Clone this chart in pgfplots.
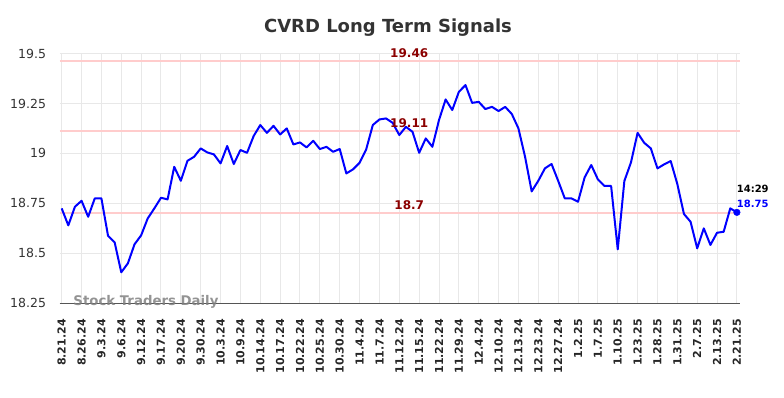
\documentclass[border=0pt]{standalone}
\usepackage{pgfplots}
\pgfplotsset{compat=1.18}
\usepackage{fontspec}
\setmainfont{DejaVu Sans}
\definecolor{lvl}{RGB}{255,204,204}
\definecolor{lvltxt}{RGB}{139,0,0}
\definecolor{gridc}{RGB}{232,232,232}
\definecolor{axc}{RGB}{85,85,85}
\pgfplotstableread{
i v
0 18.725
1 18.64
2 18.733
3 18.763
4 18.683
5 18.775
6 18.775
7 18.588
8 18.555
9 18.405
10 18.45
11 18.545
12 18.59
13 18.675
14 18.725
15 18.778
16 18.77
17 18.933
18 18.863
19 18.963
20 18.983
21 19.025
22 19.005
23 18.995
24 18.95
25 19.037
26 18.947
27 19.017
28 19.003
29 19.087
30 19.142
31 19.103
32 19.138
33 19.095
34 19.125
35 19.045
36 19.055
37 19.03
38 19.063
39 19.022
40 19.033
41 19.008
42 19.022
43 18.9
44 18.92
45 18.953
46 19.02
47 19.142
48 19.17
49 19.175
50 19.153
51 19.092
52 19.133
53 19.108
54 19.003
55 19.075
56 19.033
57 19.167
58 19.27
59 19.217
60 19.308
61 19.342
62 19.253
63 19.258
64 19.222
65 19.233
66 19.212
67 19.233
68 19.197
69 19.125
70 18.983
71 18.81
72 18.863
73 18.925
74 18.947
75 18.863
76 18.775
77 18.775
78 18.758
79 18.88
80 18.942
81 18.87
82 18.837
83 18.837
84 18.52
85 18.862
86 18.955
87 19.103
88 19.053
89 19.025
90 18.925
91 18.945
92 18.962
93 18.847
94 18.697
95 18.658
96 18.525
97 18.625
98 18.542
99 18.603
100 18.608
101 18.725
102 18.705
}\prices
\begin{document}
\begin{tikzpicture}[x=1pt,y=1pt]
\useasboundingbox (0,0) rectangle (784,398);
\node[anchor=base, font=\bfseries\fontsize{18}{18}\selectfont, text=black!80] at (388,365) {CVRD Long Term Signals};
\begin{axis}[at={(59.5pt,94.7pt)}, anchor=south west, scale only axis,
  width=680.5pt, height=249.8pt,
  xmin=-0.33, xmax=102.47, ymin=18.25, ymax=19.5,
  axis line style={draw=none},
  clip=false,
  major tick length=0pt,
  xtick={0,3,...,102},
  xticklabels={8.21.24,8.26.24,9.3.24,9.6.24,9.12.24,9.17.24,9.20.24,9.30.24,10.3.24,10.9.24,10.14.24,10.17.24,10.22.24,10.25.24,10.30.24,11.4.24,11.7.24,11.12.24,11.15.24,11.22.24,11.29.24,12.4.24,12.10.24,12.13.24,12.23.24,12.27.24,1.2.25,1.7.25,1.10.25,1.23.25,1.28.25,1.31.25,2.7.25,2.13.25,2.21.25},
  ytick={18.25,18.5,18.75,19,19.25,19.5},
  yticklabels={18.25,18.5,18.75,19,19.25,19.5},
  xticklabel style={rotate=90, anchor=east, font=\bfseries\fontsize{11}{11}\selectfont, text=black!85, xshift=-12.5pt},
  yticklabel style={font=\fontsize{12.5}{12.5}\selectfont, text=black!80, xshift=-10pt},
  xmajorgrids, ymajorgrids,
  major grid style={gridc, line width=1pt},
]
\addplot[lvl, line width=2pt] coordinates {(-0.33,19.46) (102.47,19.46)};
\addplot[lvl, line width=2pt] coordinates {(-0.33,19.11) (102.47,19.11)};
\addplot[lvl, line width=2pt] coordinates {(-0.33,18.70) (102.47,18.70)};
\draw[axc, line width=1.2pt] (rel axis cs:0,0) -- (rel axis cs:1,0);
\addplot[blue, line width=2pt, line join=round] table[x=i, y=v] {\prices};
\addplot[blue, only marks, mark=*, mark size=3.3pt] coordinates {(102,18.705)};
\node[anchor=south, text=lvltxt, font=\bfseries\fontsize{12}{12}\selectfont] at (axis cs:52.5,19.46) {19.46};
\node[anchor=south, text=lvltxt, font=\bfseries\fontsize{12}{12}\selectfont] at (axis cs:52.5,19.11) {19.11};
\node[anchor=south, text=lvltxt, font=\bfseries\fontsize{12}{12}\selectfont] at (axis cs:52.5,18.70) {18.7};
\node[text=black!50, opacity=0.85, font=\bfseries\fontsize{13.3}{13.3}\selectfont] at (axis cs:12.73,18.2565) {Stock Traders Daily};
\node[text=black, font=\bfseries\fontsize{10}{10}\selectfont] at (axis cs:104.4,18.8215) {14:29};
\node[text=blue, font=\bfseries\fontsize{10}{10}\selectfont] at (axis cs:104.4,18.75) {18.75};
\end{axis}
\end{tikzpicture}
\end{document}
